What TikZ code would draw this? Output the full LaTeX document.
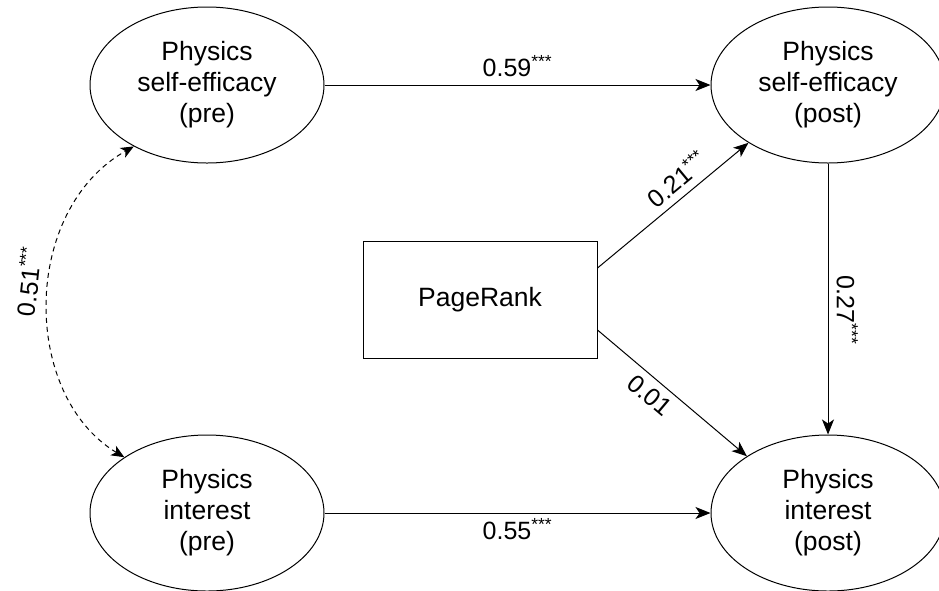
\documentclass[tikz,border=0pt]{standalone}
\usepackage{fontspec}
\setmainfont{Liberation Sans}
\usetikzlibrary{arrows.meta,shapes.geometric}
\begin{document}
\begin{tikzpicture}[x=1pt,y=-1pt,
  latent/.style={draw,ellipse,line width=1pt,minimum width=234pt,minimum height=156pt,inner sep=0pt,align=center,font=\fontsize{26.5}{31}\selectfont},
  obs/.style={draw,rectangle,line width=1pt,minimum width=234pt,minimum height=117pt,inner sep=0pt,font=\fontsize{26.5}{31}\selectfont},
  path/.style={line width=1pt,-{Stealth[length=15pt,width=12pt,inset=4pt]}},
  cov/.style={line width=1pt,dashed,dash pattern=on 5pt off 4pt,{Stealth[length=13pt,width=11pt,inset=3.5pt]}-{Stealth[length=13pt,width=11pt,inset=3.5pt]}},
  lab/.style={font=\fontsize{25}{30}\selectfont,inner sep=3pt}]
\clip (0,0) rectangle (939,590);
\useasboundingbox (0,0) rectangle (939,590);
\node[latent] (sepre) at (207,85) {Physics\\self-efficacy\\(pre)};
\node[latent] (sepost) at (828,85) {Physics\\self-efficacy\\(post)};
\node[latent] (inpre) at (207,513) {Physics\\interest\\(pre)};
\node[latent] (inpost) at (828,513) {Physics\\interest\\(post)};
\node[obs] (pr) at (480,299.5) {PageRank};
\draw[path] (sepre.east) -- node[lab,above=5pt] {0.59\textsuperscript{***}} (sepost.west);
\draw[path] (inpre.east) -- node[lab,below=2pt] {0.55\textsuperscript{***}} (inpost.west);
\draw[path] (sepost.south) -- node[lab,sloped,above=5pt,pos=0.54] {0.27\textsuperscript{***}} (inpost.north);
\draw[path] ([yshift=31.5pt]pr.east) -- node[lab,sloped,above=4pt,pos=0.6] {0.21\textsuperscript{***}} (sepost.216);
\draw[path] ([yshift=-30.5pt]pr.east) -- node[lab,sloped,below=4pt,pos=0.42] {0.01} (inpost.145);
\draw[cov] (inpre.146) .. controls (21,395) and (21,210) .. node[lab,sloped,above=7pt,pos=0.55] {0.51\textsuperscript{***}} (sepre.220);
\end{tikzpicture}
\end{document}
